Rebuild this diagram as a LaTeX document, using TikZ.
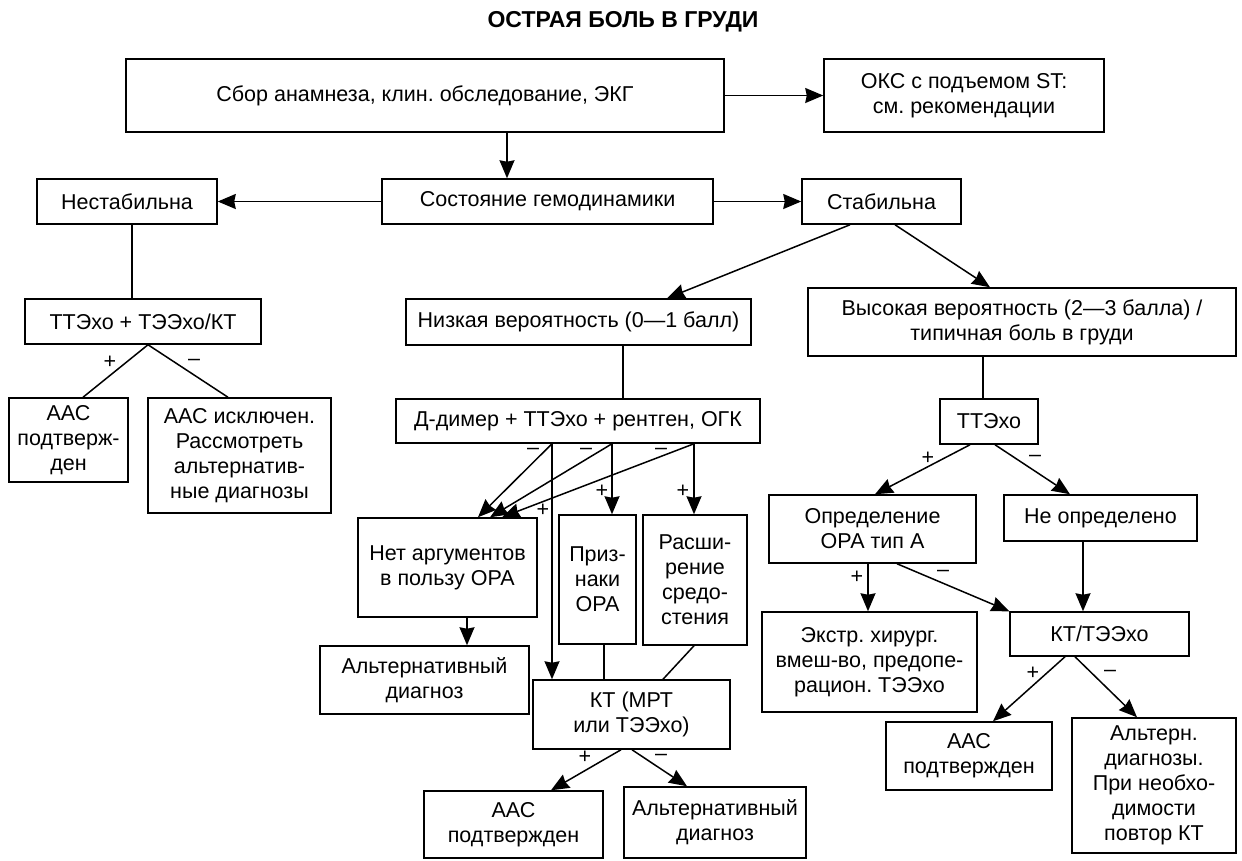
\documentclass[tikz,border=0pt]{standalone}
\usepackage{fontspec}
\setmainfont{Liberation Sans}
\usetikzlibrary{arrows.meta}
\newcommand\boxfont{\fontsize{21.5}{25}\selectfont}
\frenchspacing
\begin{document}
\begin{tikzpicture}[x=1pt,y=-1pt,
  box/.style={draw, line width=1.5pt, inner sep=0pt, align=center, font=\boxfont},
  conn/.style={line width=1.5pt},
  arr/.style={line width=1.5pt, -{Stealth[length=18pt,width=15pt,inset=1.5pt]}},
  sign/.style={inner sep=0pt, font=\boxfont}]
\useasboundingbox (0,0) rectangle (1242,860);
\node[font=\fontsize{23}{27}\selectfont\bfseries] (title) at (623,22) {ОСТРАЯ БОЛЬ В ГРУДИ};

\node[box, minimum width=598, minimum height=73] (A) at (425,95.5) {Сбор анамнеза, клин. обследование, ЭКГ};
\node[box, minimum width=280, minimum height=73] (OKS) at (964,95.5) {ОКС с подъемом ST:\\см. рекомендации};
\node[box, minimum width=331, minimum height=45] (Sost) at (547.5,201.5) {Состояние гемодинамики};
\node[box, minimum width=180, minimum height=45] (Nest) at (127,201.5) {Нестабильна};
\node[box, minimum width=159, minimum height=45] (Stab) at (881.5,201.5) {Стабильна};
\node[box, minimum width=236, minimum height=45] (T1) at (143,321.5) {ТТЭхо + ТЭЭхо/КТ};
\node[box, minimum width=119, minimum height=84] (AAC1) at (68.5,440) {ААС\\подтверж-\\ден};
\node[box, minimum width=183, minimum height=115] (AAC2) at (239.5,455.5) {ААС исключен.\\Рассмотреть\\альтернатив-\\ные диагнозы};
\node[box, minimum width=345, minimum height=46] (Nizk) at (578.5,322) {Низкая вероятность (0—1 балл)};
\node[box, minimum width=364, minimum height=44] (Ddim) at (578,421) {Д-димер + ТТЭхо + рентген, ОГК};
\node[box, minimum width=179, minimum height=99] (Net) at (447.5,567.5) {Нет аргументов\\в пользу ОРА};
\node[box, minimum width=77, minimum height=129] (Priz) at (597.5,579.5) {Приз-\\наки\\ОРА};
\node[box, minimum width=104, minimum height=130] (Rasch) at (695,580) {Расши-\\рение\\средо-\\стения};
\node[box, minimum width=209, minimum height=68] (Alt1) at (424.5,680) {Альтернативный\\диагноз};
\node[box, minimum width=197, minimum height=69] (KT) at (631.5,714.5) {КТ (МРТ\\или ТЭЭхо)};
\node[box, minimum width=179, minimum height=67] (AAC4) at (513.5,824.5) {ААС\\подтвержден};
\node[box, minimum width=182, minimum height=71] (Alt2) at (715,822.5) {Альтернативный\\диагноз};

\node[box, minimum width=428, minimum height=68] (Vys) at (1022,322) {Высокая вероятность (2—3 балла) /\\типичная боль в груди};
\node[box, minimum width=98, minimum height=45] (TTE) at (989,421.5) {ТТЭхо};
\node[box, minimum width=207, minimum height=68] (Opr) at (872.5,529) {Определение\\ОРА тип А};
\node[box, minimum width=193, minimum height=46] (NeOpr) at (1100.5,518) {Не определено};
\node[box, minimum width=215, minimum height=100] (Extr) at (869.5,662) {Экстр. хирург.\\вмеш-во, предопе-\\рацион. ТЭЭхо};
\node[box, minimum width=179, minimum height=44] (KTT) at (1099.5,634) {КТ/ТЭЭхо};
\node[box, minimum width=166, minimum height=68] (AAC3) at (969,756) {ААС\\подтвержден};
\node[box, minimum width=164, minimum height=135] (AltN) at (1154,785.5) {Альтерн.\\диагнозы.\\При необхо-\\димости\\повтор КТ};

\coordinate (xa) at (507,0);
\coordinate (xn) at (132,0);
\coordinate (xl) at (623,0);
\coordinate (d1) at (552,0);
\coordinate (d2) at (612,0);
\coordinate (d3) at (694,0);
\coordinate (xr) at (983,0);
\coordinate (xo) at (868,0);
\coordinate (xe) at (1083,0);
\coordinate (xnet) at (467,0);
\coordinate (xp) at (604,0);

\draw[arr] (A) -- (OKS);
\draw[arr] (A.south -| xa) -- (Sost.north -| xa);
\draw[arr] (Sost) -- (Nest);
\draw[arr] (Sost) -- (Stab);
\draw[conn] (Nest.south -| xn) -- (T1.north -| xn);
\draw[conn] ([xshift=5pt]T1.south) -- ([xshift=14.5pt]AAC1.north);
\draw[conn] ([xshift=5pt]T1.south) -- ([xshift=-11.5pt]AAC2.north);

\draw[arr] ([xshift=-31.5pt]Stab.south) -- ([xshift=88.5pt]Nizk.north);
\draw[arr] ([xshift=13.5pt]Stab.south) -- ([xshift=-32pt]Vys.north);
\draw[conn] (Nizk.south -| xl) -- (Ddim.north -| xl);

\draw[arr] (Ddim.south -| d1) -- ([xshift=30.5pt]Net.north);
\draw[arr] (Ddim.south -| d2) -- ([xshift=42.5pt]Net.north);
\draw[arr] (Ddim.south -| d3) -- ([xshift=54.5pt]Net.north);
\draw[arr] (Ddim.south -| d1) -- (KT.north -| d1);
\draw[arr] (Ddim.south -| d2) -- (Priz.north -| d2);
\draw[arr] (Ddim.south -| d3) -- (Rasch.north -| d3);
\draw[arr] (Net.south -| xnet) -- (Alt1.north -| xnet);
\draw[conn] (Priz.south -| xp) -- (KT.north -| xp);
\draw[conn] (Rasch.south -| d3) -- ([xshift=31.5pt]KT.north);
\draw[arr] ([xshift=-10.5pt]KT.south) -- ([xshift=37.5pt]AAC4.north);
\draw[arr] ([xshift=0.5pt]KT.south) -- ([xshift=-28pt]Alt2.north);

\draw[conn] (Vys.south -| xr) -- (TTE.north -| xr);
\draw[arr] ([xshift=-19pt]TTE.south) -- ([xshift=2.5pt]Opr.north);
\draw[arr] ([xshift=6pt]TTE.south) -- ([xshift=-30.5pt]NeOpr.north);
\draw[arr] (Opr.south -| xo) -- (Extr.north -| xo);
\draw[arr] ([xshift=24.5pt]Opr.south) -- (KTT.north west);
\draw[arr] (NeOpr.south -| xe) -- (KTT.north -| xe);
\draw[arr] ([xshift=-34.5pt]KTT.south) -- ([xshift=24pt]AAC3.north);
\draw[arr] ([xshift=-24.5pt]KTT.south) -- ([xshift=-17pt]AltN.north);

\node[sign] (s1) at (110,362) {+};
\node[sign] (s2) at (194,362) {–};
\node[sign] (s3) at (533,451) {–};
\node[sign] (s4) at (586,451) {–};
\node[sign] (s5) at (661,451) {–};
\node[sign] (s6) at (602,491) {+};
\node[sign] (s7) at (683,491) {+};
\node[sign] (s8) at (543,510) {+};
\node[sign] (s9) at (585,757) {+};
\node[sign] (s10) at (661,757) {–};
\node[sign] (s11) at (928,458) {+};
\node[sign] (s12) at (1035,458) {–};
\node[sign] (s13) at (857,577) {+};
\node[sign] (s14) at (943,573) {–};
\node[sign] (s15) at (1033,673) {+};
\node[sign] (s16) at (1110,673) {–};
\end{tikzpicture}
\end{document}
